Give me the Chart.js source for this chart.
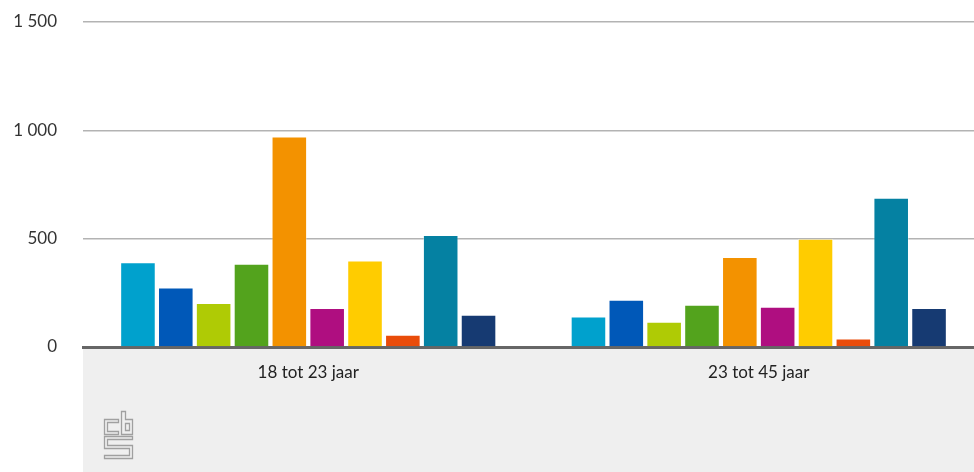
<!DOCTYPE html>
<html>
<head>
<meta charset="utf-8">
<script src="https://cdn.jsdelivr.net/npm/chart.js@4/dist/chart.umd.min.js"></script>
<style>
  html, body { margin: 0; padding: 0; background: #fff; overflow: hidden; }
  #wrap { width: 984px; height: 472px; }
</style>
</head>
<body>
<div id="wrap"><canvas id="c" width="984" height="472"></canvas></div>
<script>
// Age groups on the x axis
const categories = ['18 tot 23 jaar', '23 tot 45 jaar'];

// One series per bar colour, values per age group
const series1 = [391, 141];
const series2 = [275, 218];
const series3 = [203, 116];
const series4 = [384, 195];
const series5 = [972, 415];
const series6 = [180, 186];
const series7 = [399, 500];
const series8 = [56, 39];
const series9 = [517, 689];
const series10 = [149, 180];

const seriesValues = [series1, series2, series3, series4, series5,
                      series6, series7, series8, series9, series10];
const seriesColors = ['#00a1cd', '#0058b8', '#afcb05', '#53a31d', '#f39200',
                      '#af0e80', '#ffcc00', '#e94c0a', '#0581a2', '#163a72'];

// Value axis ticks
const yTicks = [0, 500, 1000, 1500];

const fmt = v => String(v).replace(/\B(?=(\d{3})+(?!\d))/g, ' ');

// Grey band under the plot and the logo in its lower left corner
const bandPlugin = {
  id: 'band',
  beforeDraw(chart) {
    const { ctx, chartArea } = chart;
    ctx.save();
    ctx.fillStyle = '#efefef';
    ctx.fillRect(chartArea.left, chartArea.bottom, chart.width - chartArea.left, chart.height - chartArea.bottom);
    ctx.restore();
  },
  afterDraw(chart) {
    const { ctx, chartArea } = chart;
    const ox = chartArea.left + 21.5, oy = chartArea.bottom + 64.5;
    const shapes = [
      // c
      [[14,8],[0,8],[0,23],[14,23],[14,20],[3,20],[3,11],[14,11]],
      // b
      [[17,0],[21,0],[21,8],[28,8],[28,23],[17,23]],
      [[21,12],[25,12],[25,19],[21,19]],
      // s
      [[28,25],[0,25],[0,37],[25,37],[25,44],[0,44],[0,47],[28,47],[28,34],[3,34],[3,28],[28,28]]
    ];
    ctx.save();
    ctx.strokeStyle = '#a0a0a0';
    ctx.lineWidth = 1.3;
    ctx.lineJoin = 'miter';
    shapes.forEach(pts => {
      ctx.beginPath();
      pts.forEach((p, i) => i ? ctx.lineTo(ox + p[0], oy + p[1]) : ctx.moveTo(ox + p[0], oy + p[1]));
      ctx.closePath();
      ctx.stroke();
    });
    ctx.restore();
  }
};

new Chart(document.getElementById('c'), {
  type: 'bar',
  data: {
    labels: categories,
    datasets: seriesValues.map((vals, i) => ({
      label: 'Reeks ' + (i + 1),
      data: vals,
      backgroundColor: seriesColors[i],
      borderColor: 'rgba(255,255,255,0.35)',
      borderWidth: 1,
      categoryPercentage: 0.84,
      barPercentage: 0.94
    }))
  },
  options: {
    responsive: false,
    animation: false,
    layout: { padding: { top: 22, right: 0, left: 0, bottom: 0 } },
    plugins: { legend: { display: false }, tooltip: { enabled: false } },
    scales: {
      x: {
        grid: { display: false, drawTicks: false },
        border: { display: true, color: '#666666', width: 3 },
        ticks: { color: '#222', padding: 15, font: { family: 'Lato', size: 17 } },
        afterFit(scale) { scale.height = 125; }
      },
      y: {
        min: 0,
        max: 1500,
        afterBuildTicks(scale) { scale.ticks = yTicks.map(v => ({ value: v })); },
        grid: { color: '#b3b3b3', lineWidth: 1.5, drawTicks: true, tickLength: 26, tickColor: 'rgba(0,0,0,0)' },
        border: { display: false },
        ticks: {
          color: '#333',
          padding: 0,
          font: { family: 'Lato', size: 17 },
          callback: v => fmt(v)
        },
        afterFit(scale) { scale.width = 83; }
      }
    }
  },
  plugins: [bandPlugin]
});
</script>
</body>
</html>
